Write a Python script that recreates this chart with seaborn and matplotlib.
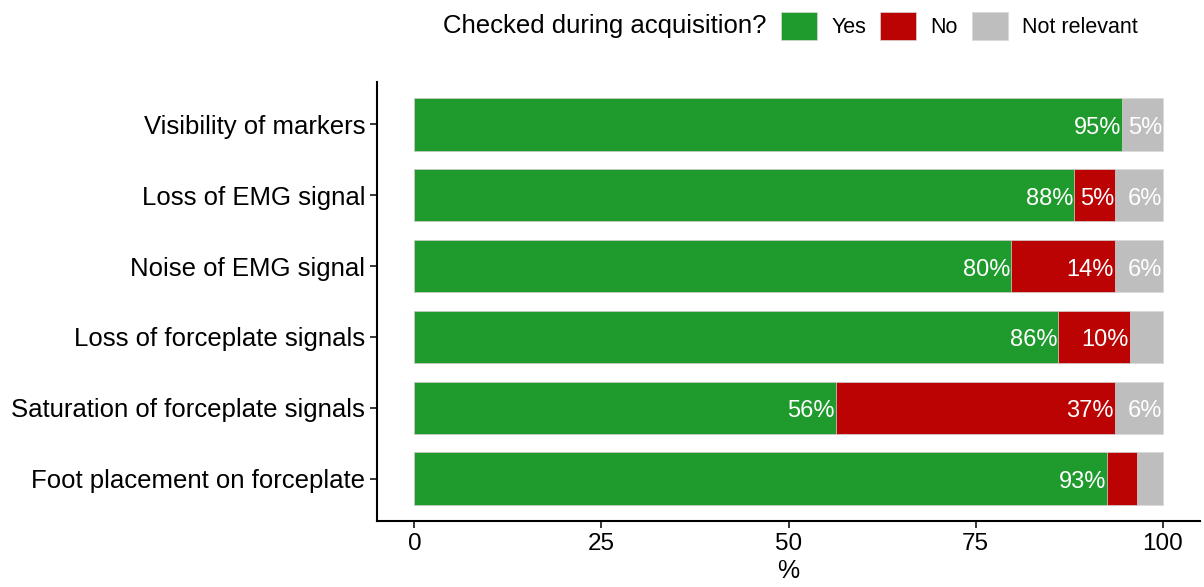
import matplotlib
matplotlib.use("Agg")
import matplotlib.pyplot as plt
from matplotlib.patches import Patch
import seaborn as sns
import pandas as pd
import numpy as np

categories = ["Visibility of markers", "Loss of EMG signal", "Noise of EMG signal",
              "Loss of forceplate signals", "Saturation of forceplate signals",
              "Foot placement on forceplate"]
yes_vals = [94.6, 88.2, 79.7, 86.0, 56.3, 92.6]
no_vals = [0.0, 5.4, 13.9, 9.6, 37.3, 4.0]
nr_vals = [5.4, 6.4, 6.4, 4.4, 6.4, 3.4]
legend_labels = ["Yes", "No", "Not relevant"]
colors = ["#1f9a2d", "#bb0303", "#bebebe"]
x_ticks = [0, 25, 50, 75, 100]

sns.set_style("white")
plt.rcParams["font.family"] = ["Liberation Sans", "DejaVu Sans"]
plt.rcParams["text.color"] = "black"
plt.rcParams["axes.labelcolor"] = "black"
plt.rcParams["xtick.color"] = "black"
plt.rcParams["ytick.color"] = "black"

df = pd.DataFrame({"cat": categories, "yes": yes_vals, "no": no_vals, "nr": nr_vals})
df["cum_no"] = df["yes"] + df["no"]
df["cum_nr"] = df["cum_no"] + df["nr"]

fig = plt.figure(figsize=(12.04, 5.87), dpi=100)
ax = fig.add_axes([377/1204, 1-521/587, (1200-377)/1204, (521-82)/587])

bw = 0.74
edge = dict(edgecolor="#d9d9d9", linewidth=0.5)
sns.barplot(data=df, x="cum_nr", y="cat", orient="h", color=colors[2], width=bw,
            saturation=1, ax=ax, **edge)
sns.barplot(data=df, x="cum_no", y="cat", orient="h", color=colors[1], width=bw,
            saturation=1, ax=ax, **edge)
sns.barplot(data=df, x="yes", y="cat", orient="h", color=colors[0], width=bw,
            saturation=1, ax=ax, **edge)

for i, row in df.iterrows():
    for val, end in [(row["yes"], row["yes"]), (row["no"], row["cum_no"]), (row["nr"], row["cum_nr"])]:
        if val >= 5:
            ax.annotate(f"{int(round(val))}%", xy=(end, i), xytext=(-0.5, -2.5),
                        textcoords="offset points", ha="right", va="center",
                        color="white", fontsize=17)

ax.set_xlim(-5, 105)
ax.set_ylim(5.6, -0.6)
ax.set_xticks(x_ticks)
ax.set_xticklabels([str(t) for t in x_ticks])
ax.set_xlabel("%", fontsize=18, labelpad=3, color="black")
ax.set_ylabel("")
ax.tick_params(axis="both", direction="out", length=5, width=1.1, color="black",
               labelcolor="black", bottom=True, left=True, pad=3.5)
ax.tick_params(axis="x", labelsize=17.5)
ax.tick_params(axis="y", labelsize=18.5)
for lbl in ax.get_yticklabels():
    lbl.set_va("center_baseline")
for s in ["top", "right"]:
    ax.spines[s].set_visible(False)
for s in ["left", "bottom"]:
    ax.spines[s].set_color("black")
    ax.spines[s].set_linewidth(1.5)

fig.text(443/1204, 1-26/587, "Checked during acquisition?", ha="left", va="center",
         fontsize=18.5, color="black")
handles = [Patch(facecolor=c, edgecolor="#d9d9d9", linewidth=0.5) for c in colors]
leg = fig.legend(handles, legend_labels, ncol=3, loc="center left",
                 bbox_to_anchor=(781/1204, 1-26/587), frameon=False, fontsize=15.5,
                 handlelength=1.68, handleheight=1.68, handletextpad=0.65,
                 columnspacing=0.65, borderpad=0, borderaxespad=0)
for t in leg.get_texts():
    t.set_color("black")

fig.savefig("out.png", dpi=100)
